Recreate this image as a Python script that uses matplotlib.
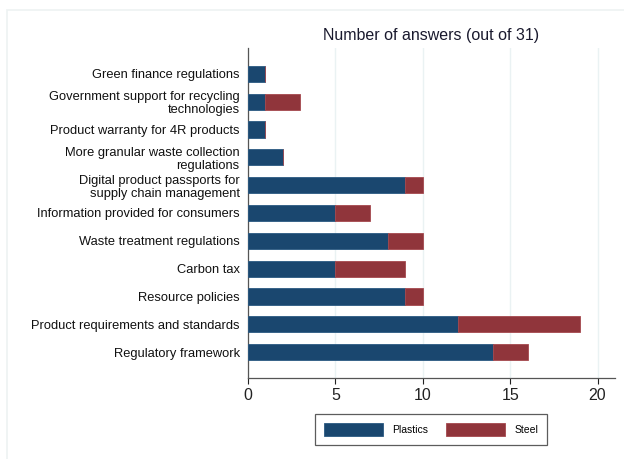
import numpy as np
import matplotlib.pyplot as plt
from matplotlib.patches import Rectangle

categories = [
    "Green finance regulations",
    "Government support for recycling\ntechnologies",
    "Product warranty for 4R products",
    "More granular waste collection\nregulations",
    "Digital product passports for\nsupply chain management",
    "Information provided for consumers",
    "Waste treatment regulations",
    "Carbon tax",
    "Resource policies",
    "Product requirements and standards",
    "Regulatory framework",
]
plastics = [1, 1, 1, 2, 9, 5, 8, 5, 9, 12, 14]
steel = [0, 2, 0, 0, 1, 2, 2, 4, 1, 7, 2]
xticks = [0, 5, 10, 15, 20]

navy = '#1a476f'
maroon = '#90353b'
grid_c = '#eaf2f3'

plt.rcParams['font.family'] = ['Liberation Sans', 'DejaVu Sans']

fig = plt.figure(figsize=(6.24, 4.59), dpi=100, facecolor='white')
# faint outer frame
fig.patches.append(Rectangle((7 / 624, -0.1), 1.2, 1 - 10 / 459 + 0.1,
                             transform=fig.transFigure, fill=False,
                             edgecolor='#edf2f2', linewidth=1.2))

ax = fig.add_axes([248 / 624, 1 - 378 / 459, 367 / 624, 330 / 459])

y = np.arange(len(categories))
h = 0.58
ax.barh(y, plastics, height=h, color=navy, edgecolor='#2b5a82',
        linewidth=0.6, label='Plastics', zorder=3)
ax.barh(y, steel, left=plastics, height=h, color=maroon, edgecolor='#a5484e',
        linewidth=0.6, label='Steel', zorder=3)

ax.set_yticks(y)
ax.set_yticklabels(categories, fontsize=9.3, linespacing=1.1)
ax.set_ylim(len(categories) - 1 + 0.93, -0.93)
ax.set_xlim(0, 21)
ax.set_xticks(xticks)
ax.tick_params(axis='x', labelsize=11.5, length=4, width=0.8, colors='#222222',
               pad=3)
ax.tick_params(axis='y', length=0, pad=6, colors='#111111')
ax.grid(axis='x', color=grid_c, linewidth=1.0, zorder=0)
ax.set_axisbelow(True)

for s in ['top', 'right']:
    ax.spines[s].set_visible(False)
for s in ['left', 'bottom']:
    ax.spines[s].set_color('#555555')
    ax.spines[s].set_linewidth(0.9)

ax.xaxis.set_label_position('top')
ax.set_xlabel('Number of answers (out of 31)', fontsize=11.5, color='#1a1a2e',
              labelpad=6)

leg = fig.legend(loc='center', bbox_to_anchor=(431 / 624, 1 - 429.5 / 459),
                 ncol=2, fontsize=7.5, frameon=True, fancybox=False,
                 edgecolor='#333333', handlelength=5.7, handleheight=1.5,
                 columnspacing=1.7, handletextpad=0.85, borderpad=0.85,
                 borderaxespad=0)
leg.get_frame().set_linewidth(0.9)

fig.savefig('out.png', dpi=100, facecolor='white')
